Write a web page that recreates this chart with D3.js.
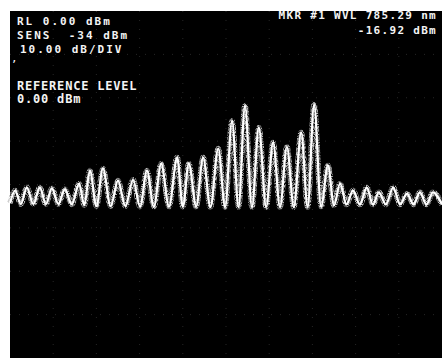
<!DOCTYPE html>
<html>
<head>
<meta charset="utf-8">
<script src="https://cdn.jsdelivr.net/npm/d3@7"></script>
<style>
  html, body { margin: 0; padding: 0; background: #fff; }
  svg { display: block; }
  .osa text { fill: #f4f4f4; font-family: "DejaVu Sans Mono", monospace; white-space: pre; }
</style>
</head>
<body>
<div id="chart"></div>
<script>
// fringe peaks (wavelength nm, level dBm)
const peakWvl = [780.12, 780.39, 780.69, 780.97, 781.27, 781.60, 781.85, 782.15, 782.50, 782.85,
                 783.17, 783.50, 783.87, 784.14, 784.47, 784.82, 785.14, 785.44, 785.76, 786.09,
                 786.41, 786.74, 787.04, 787.36, 787.64, 787.94, 788.26, 788.54, 788.87, 789.19,
                 789.49, 789.79];
const peakLvl = [-41.4, -40.7, -40.7, -40.9, -41.1, -39.8, -36.8, -36.3, -39.1, -38.9,
                 -36.8, -35.2, -33.8, -35.2, -33.8, -31.7, -25.3, -21.8, -26.9, -30.3,
                 -31.3, -28.0, -21.6, -35.6, -39.8, -41.4, -40.7, -41.8, -40.7, -42.1,
                 -41.8, -41.8];
// fringe minima between the peaks
const troughWvl = [780.00, 780.25, 780.54, 780.83, 781.12, 781.43, 781.72, 782.00, 782.33, 782.67,
                   783.01, 783.33, 783.68, 784.00, 784.31, 784.64, 784.98, 785.29, 785.60, 785.93,
                   786.25, 786.57, 786.89, 787.20, 787.50, 787.79, 788.10, 788.40, 788.70, 789.03,
                   789.34, 789.64, 790.00];
const troughLvl = [-44.3, -44.5, -44.5, -44.5, -44.5, -44.6, -44.8, -45.0, -45.0, -45.0,
                   -45.1, -45.1, -45.1, -45.1, -45.1, -45.2, -45.2, -45.2, -45.2, -45.2,
                   -45.2, -45.2, -45.2, -45.1, -44.8, -44.6, -44.6, -44.6, -44.6, -44.6,
                   -44.6, -44.6, -44.6];

const wvlRange = [780, 790];
const dbmRange = [0, -80];

// screen annotations
const leftLines = ["RL 0.00 dBm", "SENS  -34 dBm", "10.00 dB/DIV"];
const refLines = ["REFERENCE LEVEL", "0.00 dBm"];
const mkrLines = ["MKR #1 WVL 785.29 nm", "-16.92 dBm"];

const W = 442, H = 358;
const scr = {x0: 10, y0: 11, x1: 442, y1: 358};

const svg = d3.select("#chart").append("svg")
    .attr("width", W)
    .attr("height", H)
    .attr("class", "osa");

svg.append("rect").attr("width", W).attr("height", H).attr("fill", "#fff");

// speckle filter for the trace
const defs = svg.append("defs");
const f = defs.append("filter").attr("id", "speckle")
    .attr("x", "-5%").attr("y", "-20%").attr("width", "110%").attr("height", "140%");
f.append("feTurbulence").attr("type", "fractalNoise").attr("baseFrequency", 1.1)
    .attr("numOctaves", 1).attr("seed", 3).attr("result", "noise");
f.append("feColorMatrix").attr("in", "noise").attr("type", "matrix")
    .attr("values", "0 0 0 0 1  0 0 0 0 1  0 0 0 0 1  3.5 0 0 0 -1.2").attr("result", "mask");
f.append("feComposite").attr("in", "SourceGraphic").attr("in2", "mask").attr("operator", "in");

// screen
svg.append("rect")
    .attr("x", scr.x0).attr("y", scr.y0)
    .attr("width", scr.x1 - scr.x0).attr("height", scr.y1 - scr.y0)
    .attr("fill", "#000");

const x = d3.scaleLinear().domain(wvlRange).range([scr.x0, scr.x1]);
const y = d3.scaleLinear().domain(dbmRange).range([scr.y0, scr.y1]);

// faint dotted graticule
const grid = svg.append("g").attr("stroke", "#262626").attr("stroke-dasharray", "1,8");
grid.selectAll(".gx").data(x.ticks(10).slice(1, -1)).enter().append("line")
    .attr("x1", d => x(d)).attr("x2", d => x(d))
    .attr("y1", scr.y0).attr("y2", scr.y1);
grid.selectAll(".gy").data(y.ticks(8).slice(1, -1)).enter().append("line")
    .attr("y1", d => y(d)).attr("y2", d => y(d))
    .attr("x1", scr.x0).attr("x2", scr.x1);

// trace: alternate minima and maxima
let pts = [];
troughWvl.forEach((w, i) => {
    pts.push([w, troughLvl[i]]);
    if (i < peakWvl.length) pts.push([peakWvl[i], peakLvl[i]]);
});

const line = d3.line()
    .x(d => x(d[0]))
    .y(d => y(d[1]))
    .curve(d3.curveMonotoneX);

svg.append("path")
    .datum(pts)
    .attr("d", line)
    .attr("fill", "none")
    .attr("stroke", "#bbb")
    .attr("stroke-width", 5.5)
    .attr("filter", "url(#speckle)");

svg.append("path")
    .datum(pts)
    .attr("d", line)
    .attr("fill", "none")
    .attr("stroke", "#fff")
    .attr("stroke-width", 2.2);

// text
svg.selectAll(".ll").data(leftLines).enter().append("text")
    .attr("x", (d, i) => i == 2 ? 20 : 17)
    .attr("y", (d, i) => 25 + i * 14)
    .style("font-size", "11px")
    .style("letter-spacing", "2px")
    .style("font-weight", "bold")
    .text(d => d);

svg.append("text").attr("x", 11).attr("y", 62)
    .style("font-size", "11px").text(",");

svg.selectAll(".rl").data(refLines).enter().append("text")
    .attr("x", 17)
    .attr("y", (d, i) => 90 + i * 13)
    .style("font-size", "12px")
    .style("font-weight", "bold")
    .style("letter-spacing", "0.8px")
    .text(d => d);

svg.selectAll(".mk").data(mkrLines).enter().append("text")
    .attr("x", 437)
    .attr("y", (d, i) => 19 + i * 15)
    .attr("text-anchor", "end")
    .style("font-size", "11px")
    .style("letter-spacing", "1.3px")
    .style("font-weight", "bold")
    .text(d => d);
</script>
</body>
</html>
